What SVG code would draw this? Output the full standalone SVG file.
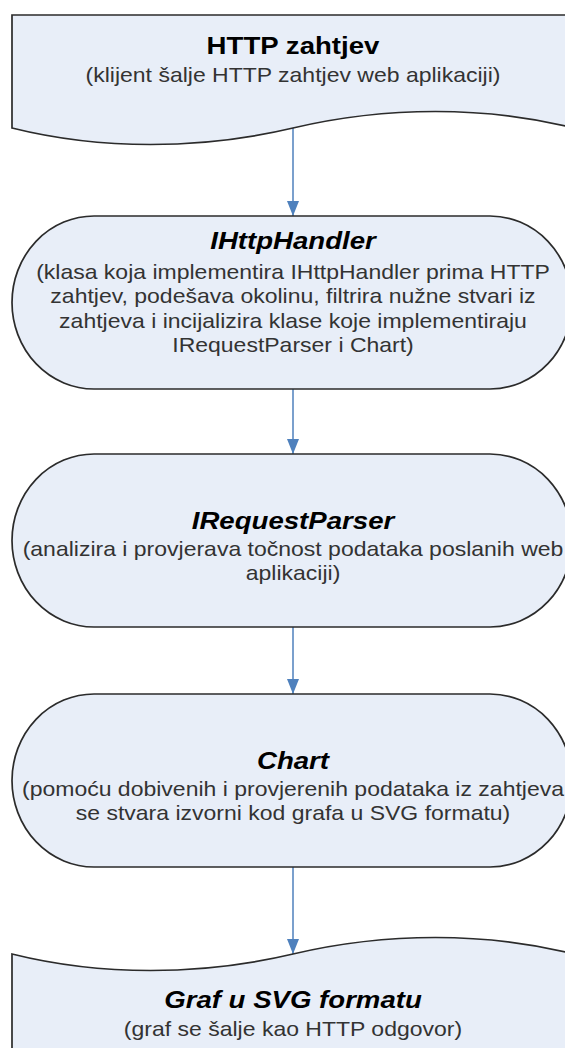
<svg xmlns="http://www.w3.org/2000/svg" width="565" height="1048" viewBox="0 0 565 1048">
<defs>
<style>
.shape{fill:#e8eef8;stroke:#2b2b2b;stroke-width:1.7}
.t{font-family:"Liberation Sans",Arial,sans-serif;font-size:24px;font-weight:bold;fill:#000;text-anchor:middle}
.ti{font-style:italic}
.s{font-family:"Liberation Sans",Arial,sans-serif;font-size:20px;fill:#333;text-anchor:middle}
.c{stroke:#4f81bd;stroke-width:1.5;fill:none}
</style>
<marker id="ah" markerWidth="15" markerHeight="12" refX="15" refY="6" orient="auto" markerUnits="userSpaceOnUse" viewBox="0 0 15 12">
<path d="M0,0 L15,6 L0,12 z" fill="#4f81bd"/>
</marker>
</defs>
<rect width="565" height="1048" fill="#fff"/>
<g id="connectors">
<line class="c" x1="293" y1="128" x2="293" y2="216" marker-end="url(#ah)"/>
<line class="c" x1="293" y1="389" x2="293" y2="454" marker-end="url(#ah)"/>
<line class="c" x1="293" y1="627" x2="293" y2="694" marker-end="url(#ah)"/>
<line class="c" x1="293" y1="867" x2="293" y2="954" marker-end="url(#ah)"/>
</g>
<g id="node-http-zahtjev">
<path class="shape" d="M12,15 H574 V128 C486,106 386,106 293,128 C200,150 100,150 12,128 Z"/>
<g transform="translate(293 0) scale(1.15 1)">
<text class="t" x="0" y="54">HTTP zahtjev</text>
<text class="s" x="0" y="82">(klijent šalje HTTP zahtjev web aplikaciji)</text>
</g>
</g>
<g id="node-ihttphandler">
<rect class="shape" x="12" y="216" width="560" height="173" rx="82" ry="86.5"/>
<g transform="translate(293 0) scale(1.15 1)">
<text class="t ti" x="0" y="249">IHttpHandler</text>
<text class="s" x="0" y="279">(klasa koja implementira IHttpHandler prima HTTP</text>
<text class="s" x="0" y="303.5">zahtjev, podešava okolinu, filtrira nužne stvari iz</text>
<text class="s" x="0" y="328">zahtjeva i incijalizira klase koje implementiraju</text>
<text class="s" x="0" y="352.5">IRequestParser i Chart)</text>
</g>
</g>
<g id="node-irequestparser">
<rect class="shape" x="12" y="454" width="560" height="173" rx="82" ry="86.5"/>
<g transform="translate(293 0) scale(1.15 1)">
<text class="t ti" x="0" y="529">IRequestParser</text>
<text class="s" x="0" y="556">(analizira i provjerava točnost podataka poslanih web</text>
<text class="s" x="0" y="580">aplikaciji)</text>
</g>
</g>
<g id="node-chart">
<rect class="shape" x="12" y="694" width="560" height="173" rx="82" ry="86.5"/>
<g transform="translate(293 0) scale(1.15 1)">
<text class="t ti" x="0" y="769">Chart</text>
<text class="s" x="0" y="796">(pomoću dobivenih i provjerenih podataka iz zahtjeva</text>
<text class="s" x="0" y="820">se stvara izvorni kod grafa u SVG formatu)</text>
</g>
</g>
<g id="node-graf">
<path class="shape" d="M12,954 C100,976 200,976 293,954 C386,932 486,932 574,954 V1060 H12 Z"/>
<g transform="translate(293 0) scale(1.15 1)">
<text class="t ti" x="0" y="1008">Graf u SVG formatu</text>
<text class="s" x="0" y="1036">(graf se šalje kao HTTP odgovor)</text>
</g>
</g>
</svg>
